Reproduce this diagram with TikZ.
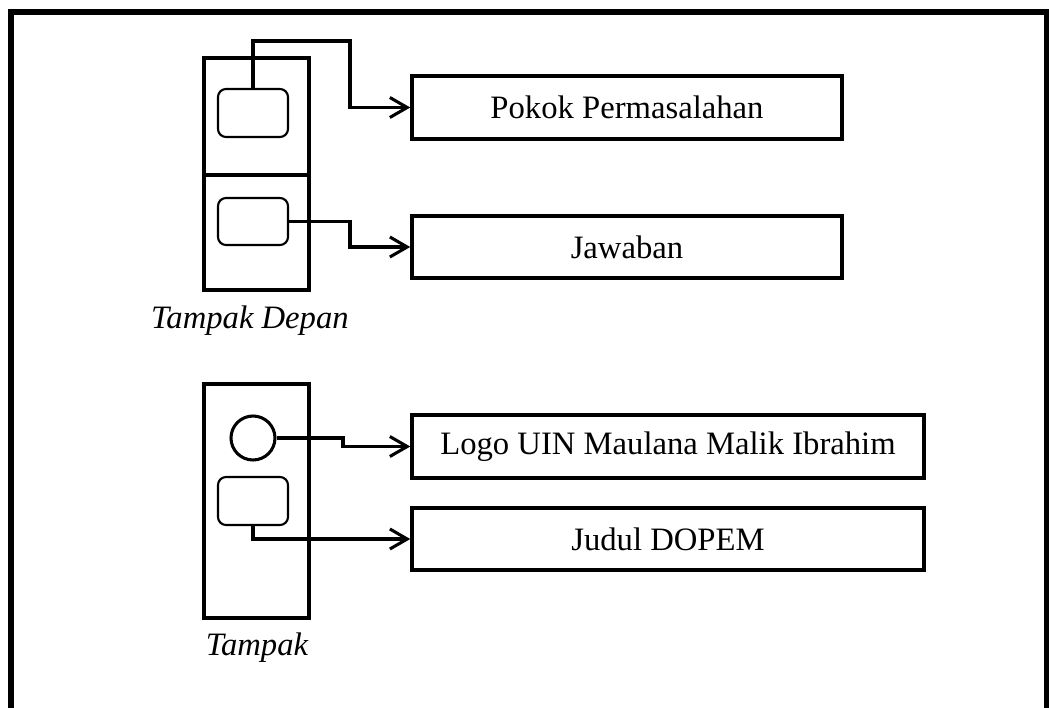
\documentclass[tikz,border=0pt]{standalone}
\usepackage{fontspec}
\setmainfont{Liberation Serif}
\usetikzlibrary{fit,arrows.meta}
\begin{document}
\begin{tikzpicture}[x=0.75pt,y=-0.75pt,
  tallbox/.style={draw,line width=3.6pt,inner sep=0pt},
  inbox/.style={draw,line width=1.6pt,rounded corners=6pt,inner sep=0pt},
  txtbox/.style={draw,line width=2.6pt,inner sep=0pt,font=\fontsize{24.5}{28}\selectfont},
  conn/.style={line width=2.3pt,-{Straight Barb[length=13pt,width=15pt,line width=2.3pt]}},
  lbl/.style={font=\fontsize{24.5}{28}\selectfont\itshape}]
\useasboundingbox (0,0) rectangle (1049,707);
\clip (0,0) rectangle (1049,707);
% outer frame
\draw[line width=3.8pt] (11,720) -- (11,12) -- (1047,12) -- (1047,720);
% front view
\node[tallbox,fit={(204,58)(309,175)}] (f1) {};
\node[tallbox,fit={(204,175)(309,290)}] (f2) {};
\node[inbox,fit={(218,89)(288,137)}] (r1) {};
\node[inbox,fit={(218,198)(288,245)}] (r2) {};
\node[txtbox,fit={(412,76)(842,139)}] (b1) {};
\node at (b1.center) [font=\fontsize{24.5}{28}\selectfont] {Pokok Permasalahan};
\node[txtbox,fit={(412,216)(842,278)}] (b2) {};
\node at (b2.center) [font=\fontsize{24.5}{28}\selectfont] {Jawaban};
\node[lbl] (l1) at (250,321) {Tampak Depan};
\coordinate (k1) at (253,41);
\draw[conn] (r1.north) -- (k1) -| (350,107.5) -- (b1.west);
\draw[conn] (r2.east) -| (350,247) -- (b2.west);
% back view
\node[tallbox,fit={(204,384)(309,618)}] (t) {};
\node[circle,draw,line width=2.3pt,minimum size=33pt,inner sep=0pt] (c) at (253,438) {};
\node[inbox,fit={(218,477)(288,525)}] (r3) {};
\node[txtbox,fit={(412,415)(924,478)}] (b3) {};
\node at (b3.center) [font=\fontsize{24.5}{28}\selectfont] {Logo UIN Maulana Malik Ibrahim};
\node[txtbox,fit={(412,508)(924,570)}] (b4) {};
\node at (b4.center) [font=\fontsize{24.5}{28}\selectfont] {Judul DOPEM};
\node[lbl] (l2) at (257,648) {Tampak};
\draw[conn] (c.east) -| (343,446.5) -- (b3.west);
\draw[conn] (r3.south) |- (b4.west);
\end{tikzpicture}
\end{document}
